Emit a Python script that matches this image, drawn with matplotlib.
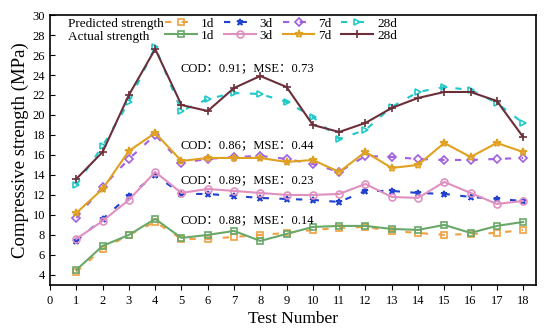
import matplotlib
matplotlib.use('Agg')
import matplotlib.pyplot as plt

plt.rcParams['font.family'] = ['Liberation Serif', 'Noto Sans CJK SC']

# test numbers
test_no = list(range(1, 19))

# actual strength (MPa)
act_1d = [4.5, 6.9, 8.0, 9.6, 7.7, 8.0, 8.4, 7.4, 8.1, 8.8, 8.9, 8.9, 8.6, 8.5, 9.0, 8.2, 8.9, 9.3]
act_3d = [7.6, 9.4, 11.5, 14.3, 12.2, 12.6, 12.4, 12.2, 12.0, 12.0, 12.1, 13.1, 11.8, 11.7, 13.3, 12.2, 11.1, 11.4]
act_7d = [10.2, 12.6, 16.4, 18.2, 15.4, 15.7, 15.7, 15.7, 15.3, 15.5, 14.3, 16.3, 14.7, 15.0, 17.2, 15.8, 17.2, 16.3]
act_28d = [13.6, 16.3, 22.0, 26.6, 21.0, 20.4, 22.7, 23.9, 22.8, 19.0, 18.3, 19.2, 20.7, 21.7, 22.3, 22.3, 21.4, 17.8]

# predicted strength (MPa)
pred_1d = [4.3, 6.6, 8.0, 9.3, 7.6, 7.6, 7.8, 8.0, 8.2, 8.5, 8.7, 8.8, 8.4, 8.2, 8.0, 8.1, 8.2, 8.5]
pred_3d = [7.4, 9.6, 11.9, 14.0, 12.1, 12.1, 11.9, 11.7, 11.6, 11.5, 11.3, 12.4, 12.4, 12.2, 12.1, 11.8, 11.6, 11.4]
pred_7d = [9.7, 12.8, 15.6, 18.0, 15.2, 15.6, 15.8, 15.9, 15.6, 15.1, 14.3, 15.9, 15.8, 15.6, 15.5, 15.5, 15.6, 15.7]
pred_28d = [13.0, 16.9, 21.3, 26.8, 20.4, 21.6, 22.2, 22.1, 21.3, 19.8, 17.6, 18.5, 20.8, 22.3, 22.8, 22.5, 21.2, 19.2]

ages = ['1d', '3d', '7d', '28d']
metrics = [('0.88', '0.14'), ('0.89', '0.23'), ('0.86', '0.44'), ('0.91', '0.73')]

fig = plt.figure(figsize=(5.5, 3.34), dpi=100)
ax = fig.add_axes([0.091, 0.147, 0.884, 0.808])

act_styles = [('#6aa86a', 's'), ('#e090c0', 'o'), ('#e0a020', '*'), ('#6b2f3a', '+')]
pred_styles = [('#f0a040', 's'), ('#2040d0', '*'), ('#a060e0', 'D'), ('#20c8c8', '>')]

actual = [act_1d, act_3d, act_7d, act_28d]
predicted = [pred_1d, pred_3d, pred_7d, pred_28d]

handles = []
for i in range(4):
    pc, pm = pred_styles[i]
    ac, am = act_styles[i]
    ms_p = 5 if pm != 'D' else 4
    hp, = ax.plot(test_no, predicted[i], color=pc, ls=(0, (3, 5)), lw=1.5,
                  marker=pm, ms=ms_p, mfc='none', mec=pc, mew=1.2, label=ages[i])
    ms_a = 6 if am in ('+', '*') else 5
    ha, = ax.plot(test_no, actual[i], color=ac, lw=1.5,
                  marker=am, ms=ms_a, mfc='none', mec=ac, mew=1.2, label=ages[i])
    handles += [hp, ha]

ax.legend(handles=handles, labels=[h.get_label() for h in handles], ncol=4,
          loc='upper left', bbox_to_anchor=(0.215, 1.03), frameon=False,
          fontsize=9.5, handlelength=2.4, columnspacing=0.75, handletextpad=0.3,
          labelspacing=0.0, borderpad=0.3)
ax.text(0.7, 29.15, 'Predicted strength', fontsize=9.5, va='center')
ax.text(0.7, 27.85, 'Actual strength', fontsize=9.5, va='center')

text_y = [9.5, 13.5, 17.0, 24.7]
for (cod, mse), ty in zip(metrics, text_y):
    ax.text(4.95, ty, 'COD：' + cod + '；MSE：' + mse, fontsize=9, va='center')

ax.set_xlim(0, 18.5)
ax.set_ylim(3, 30)
ax.set_xticks(range(0, 19))
ax.set_yticks(range(4, 31, 2))
ax.tick_params(axis='x', direction='out', labelsize=9)
ax.tick_params(axis='y', direction='in', labelsize=9)
ax.set_xlabel('Test Number', fontsize=12.5, labelpad=3)
ax.set_ylabel('Compressive strength (MPa)', fontsize=13.5, labelpad=3)
for s in ax.spines.values():
    s.set_linewidth(1.2)

fig.savefig('out.png', dpi=100)
